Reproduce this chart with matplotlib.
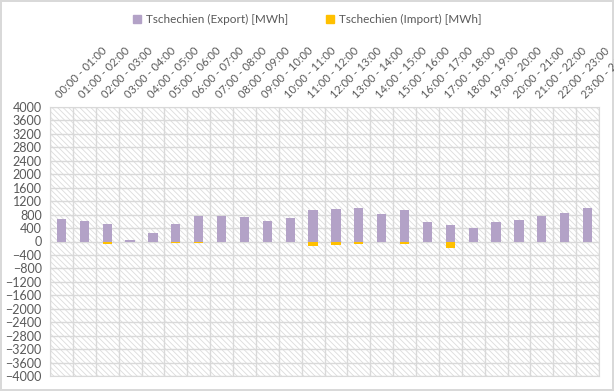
import matplotlib
matplotlib.use("Agg")
import matplotlib.pyplot as plt
from matplotlib.patches import Rectangle, Patch
import numpy as np

hours = ["%02d:00 - %02d:00" % (h, h + 1) for h in range(24)]
export_mwh = [660, 600, 510, 40, 250, 510, 750, 750, 720, 600, 690, 930,
              960, 990, 810, 930, 570, 480, 390, 570, 630, 750, 840, 990]
import_mwh = [0, -20, -80, -20, -20, -50, -50, -15, -15, 0, -15, -140,
              -110, -60, -15, -80, -10, -200, -10, 0, 0, 0, -10, -10]

plt.rcParams["font.family"] = ["Lato", "DejaVu Sans"]
plt.rcParams["hatch.linewidth"] = 0.6
txt = "#595959"
grid_c = "#d9d9d9"

fig = plt.figure(figsize=(6.14, 3.91), dpi=100)
fig.patch.set_edgecolor(grid_c)
fig.patch.set_linewidth(1.5)
ax = fig.add_axes([50 / 614, 15 / 391, 549 / 614, 269 / 391])

# hatched background
bg = Rectangle((0, 0), 1, 1, transform=ax.transAxes, facecolor="white",
               edgecolor="#dcdcdc", linewidth=0, hatch="\\\\\\\\\\\\", zorder=0)
ax.add_patch(bg)

x = np.arange(len(hours))
ax.bar(x, export_mwh, width=0.4, color="#B3A2C7", zorder=3)
ax.bar(x, import_mwh, width=0.4, color="#FFC000", zorder=3)

ax.set_xlim(-0.5, 23.5)
ax.set_ylim(-4000, 4000)
ax.set_yticks(range(-4000, 4001, 400))
ax.set_xticks(x)
ax.set_xticks(np.arange(-0.5, 24, 1), minor=True)
ax.xaxis.tick_top()
ax.set_xticklabels(hours, rotation=45, ha="left", va="bottom",
                   rotation_mode="anchor", color=txt, fontsize=8)
ax.tick_params(axis="x", which="both", length=0, pad=5)
ax.tick_params(axis="y", length=0, labelcolor=txt, labelsize=9, pad=6)
ax.grid(True, axis="y", color=grid_c, linewidth=1, zorder=1)
ax.grid(True, axis="x", which="minor", color=grid_c, linewidth=1, zorder=1)
for s in ax.spines.values():
    s.set_color(grid_c)

handles = [Patch(color="#B3A2C7", label="Tschechien (Export) [MWh]"),
           Patch(color="#FFC000", label="Tschechien (Import) [MWh]")]
fig.legend(handles=handles, loc="center", bbox_to_anchor=(0.5, 0.95), ncol=2,
           frameon=False, fontsize=8.5, labelcolor=txt, handlelength=0.7,
           handleheight=0.7, columnspacing=3.2, handletextpad=0.4)

fig.savefig("out.png", dpi=100)
